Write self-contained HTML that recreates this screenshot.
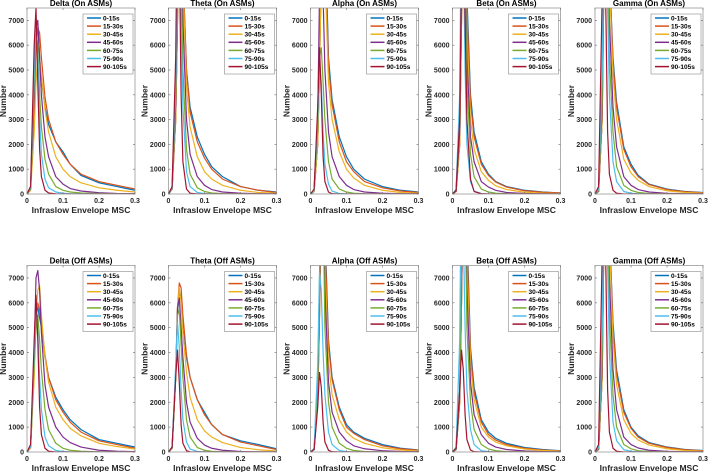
<!DOCTYPE html>
<html><head><meta charset="utf-8">
<style>
html,body{margin:0;padding:0;background:#fff;}
svg{display:block;font-family:"Liberation Sans",Arial,sans-serif;}
</style></head>
<body>
<svg id="fig" width="708" height="472" viewBox="0 0 708 472" xmlns="http://www.w3.org/2000/svg"></svg>
<script>
const xSamples=[0,0.01,0.02,0.025,0.03,0.035,0.04,0.05,0.06,0.08,0.1,0.12,0.15,0.2,0.25,0.3];
const seriesNames=["0-15s","15-30s","30-45s","45-60s","60-75s","75-90s","90-105s"];
const seriesColors=["#0072BD","#D95319","#EDB120","#7E2F8E","#77AC30","#4DBEEE","#A2142F"];
const panelTitles=["Delta (On ASMs)","Theta (On ASMs)","Alpha (On ASMs)","Beta (On ASMs)","Gamma (On ASMs)","Delta (Off ASMs)","Theta (Off ASMs)","Alpha (Off ASMs)","Beta (Off ASMs)","Gamma (Off ASMs)"];
const yTicks=[0,1000,2000,3000,4000,5000,6000,7000];
const xTicks=[0,0.1,0.2,0.3];
const xTickLabels=["0","0.1","0.2","0.3"];
const deltaOn=[
[0,300,4500,7000,6800,5500,4600,3500,2800,2100,1700,1200,750,450,300,150],
[0,200,3500,6000,6700,6500,5500,3900,3000,2100,1600,1200,800,500,350,200],
[0,150,2500,4500,5500,5500,4800,3400,2500,1500,1000,700,450,250,150,80],
[0,200,4000,6800,7000,5500,4000,2300,1500,700,400,220,120,50,20,10],
[0,200,4500,6500,6000,4000,2700,1400,800,300,150,80,40,15,5,0],
[0,250,5000,7000,5500,3000,1600,600,250,80,30,10,5,0,0,0],
[0,300,6000,7500,4500,1800,700,150,40,5,0,0,0,0,0,0]];
const thetaOn=[
[0,200,3000,7000,12000,12000,9000,5000,3500,2300,1600,1100,700,300,150,80],
[0,200,3000,7000,12000,12000,9000,5000,3300,2100,1450,1000,600,300,150,60],
[0,200,3000,7000,12000,12000,8500,4300,2700,1500,900,600,350,150,60,30],
[0,200,3500,8000,12000,11000,7000,3000,1600,700,350,180,80,30,10,5],
[0,200,4000,9000,12000,9000,5000,1800,800,250,100,40,15,5,0,0],
[0,250,4500,9500,12000,7000,3500,900,300,60,15,5,0,0,0,0],
[0,300,5500,12000,10000,4000,1300,200,30,0,0,0,0,0,0,0]];
const alphaOn=[
[0,100,2000,5000,9000,12000,11000,5500,3800,2300,1500,1000,600,300,150,80],
[0,100,2000,5000,9000,12000,10500,5200,3600,2100,1300,900,500,250,120,60],
[0,100,2000,5000,9000,11000,9000,4500,3000,1700,1000,650,350,150,60,30],
[0,150,3000,8000,12000,8000,5000,2500,1500,700,350,180,80,30,10,5],
[0,150,2500,5500,5900,4500,3000,1300,600,200,80,30,10,0,0,0],
[0,150,3000,5200,4500,2500,1200,400,120,20,5,0,0,0,0,0],
[0,200,3500,5900,4000,1500,500,80,10,0,0,0,0,0,0,0]];
const betaOn=[
[0,100,2000,7000,12000,11000,8000,4000,2500,1300,800,500,300,150,80,40],
[0,100,2000,7000,12000,11000,7500,3700,2300,1200,750,480,280,130,70,40],
[0,100,2000,7000,12000,10500,6500,3000,1800,900,550,330,180,70,30,15],
[0,120,2500,7500,12000,10000,5500,2300,1300,500,280,150,60,20,5,0],
[0,150,3000,8000,12000,9000,4500,1600,700,200,80,30,10,0,0,0],
[0,200,4000,12000,10000,5000,2000,500,120,20,0,0,0,0,0,0],
[0,150,3000,9000,12000,7000,3000,600,100,10,0,0,0,0,0,0]];
const gammaOn=[
[0,100,3000,9000,12000,12000,9000,5500,3700,1900,1200,750,400,200,100,60],
[0,100,3000,9000,12000,12000,9000,5300,3500,1800,1100,700,380,180,90,50],
[0,100,3000,9000,12000,12000,8500,4800,3000,1400,850,550,300,130,60,30],
[0,120,3500,9500,12000,11000,7000,3500,1900,700,350,180,80,25,10,5],
[0,150,4000,10000,12000,10000,5500,2500,1100,350,150,60,20,5,0,0],
[0,200,5000,12000,10000,7500,4000,1300,500,100,30,10,0,0,0,0],
[0,300,8000,12000,7500,2500,800,150,30,0,0,0,0,0,0,0]];
const deltaOff=[
[0,200,3500,5600,5800,5400,5000,3800,3000,2200,1700,1300,900,500,350,200],
[0,200,3500,5500,6000,5700,5200,3900,3000,2100,1600,1200,800,450,300,150],
[0,150,3000,5500,6500,6700,5500,3800,2800,1800,1300,950,650,350,220,120],
[0,200,4000,7000,7300,6500,4800,2700,1800,1000,600,380,200,70,30,15],
[0,200,3500,5000,5500,4500,3300,1700,900,350,150,70,30,5,0,0],
[0,200,4000,5800,4800,3000,1700,600,250,60,20,5,0,0,0,0],
[0,300,4500,6300,4500,1800,700,150,30,0,0,0,0,0,0,0]];
const thetaOff=[
[0,150,3000,5500,6500,6200,5300,3800,3000,2100,1600,1100,700,450,300,130],
[0,150,3000,5800,6800,6600,5500,3900,3000,2100,1500,1100,700,400,250,100],
[0,150,3000,5700,6600,6000,4800,3200,2200,1300,850,600,380,180,90,40],
[0,150,3200,5800,6200,5000,3800,2000,1200,550,280,150,70,20,5,0],
[0,150,3000,5500,5700,4300,3000,1300,600,180,70,25,10,0,0,0],
[0,200,3500,5200,4200,2500,1300,400,120,20,5,0,0,0,0,0],
[0,200,3000,4100,2800,1100,350,50,5,0,0,0,0,0,0,0]];
const alphaOff=[
[0,100,2000,5500,10000,12000,9000,4500,3000,1800,1100,800,550,300,150,80],
[0,100,2000,5500,10000,12000,8500,4300,2900,1700,1000,750,500,250,130,70],
[0,100,2000,5500,10000,11500,7500,3600,2300,1300,800,550,350,170,80,40],
[0,100,2200,6000,11000,10500,6500,2800,1600,800,450,250,130,50,20,10],
[0,100,2500,7000,12000,10000,5000,2000,1000,350,150,60,20,5,0,0],
[0,150,3500,7200,6500,4000,2300,800,300,60,15,0,0,0,0,0],
[0,100,1800,3200,2600,1200,400,70,10,0,0,0,0,0,0,0]];
const betaOff=[
[0,100,2000,6000,11000,12000,9000,4200,2600,1300,800,550,350,180,100,50],
[0,100,2000,6000,11000,12000,8500,4000,2400,1200,700,480,300,150,80,40],
[0,100,2000,6000,11000,11500,7500,3500,2100,1000,600,400,250,120,60,30],
[0,100,2200,6500,11500,11000,6500,2800,1500,700,350,200,100,40,15,5],
[0,120,2500,7500,12000,10000,5000,2000,900,300,120,50,15,5,0,0],
[0,200,4500,12000,9000,5000,2500,900,300,50,15,0,0,0,0,0],
[0,150,2500,4100,3300,1500,500,80,10,0,0,0,0,0,0,0]];
const gammaOff=[
[0,100,3000,9000,12000,12000,9000,5200,3300,1700,1000,650,380,200,100,60],
[0,100,3000,9000,12000,12000,9000,5000,3100,1600,950,600,350,180,90,50],
[0,100,3000,9000,12000,12000,8500,4500,2700,1300,750,480,280,130,60,30],
[0,120,3500,9500,12000,11000,7000,3300,1700,600,300,160,70,25,10,5],
[0,150,4000,10000,12000,10000,5500,2300,1000,300,130,50,20,5,0,0],
[0,200,5000,12000,10000,7500,4000,1200,450,90,25,10,0,0,0,0],
[0,300,8000,12000,7500,2500,800,150,30,0,0,0,0,0,0,0]];
const panelData=[deltaOn,thetaOn,alphaOn,betaOn,gammaOn,deltaOff,thetaOff,alphaOff,betaOff,gammaOff];

const NS="http://www.w3.org/2000/svg";
const svg=document.getElementById('fig');
const colLeft=[27,168.5,310.5,452.5,595];
const axW=108;
const rowTop=[8,265.5],rowBot=[194,452];
function mk(tag,attrs,parent){const e=document.createElementNS(NS,tag);for(const k in attrs)e.setAttribute(k,attrs[k]);(parent||svg).appendChild(e);return e;}
function slug(s){return s.toLowerCase().replace(/[^a-z0-9]+/g,'-').replace(/^-|-$/g,'');}

panelData.forEach((data,p)=>{
  const r=Math.floor(p/5),c=p%5;
  const L=colLeft[c],R=L+axW,T=rowTop[r],B=rowBot[r];
  const xs=v=>L+(v/0.3)*(R-L);
  const ys=v=>B-(v/7500)*(B-T);
  const g=mk('g',{});
  
  
  const clipId='clip'+p;
  const cp=mk('clipPath',{id:clipId},g);
  mk('rect',{x:L,y:T,width:R-L,height:B-T},cp);
  const sg=mk('g',{'clip-path':'url(#'+clipId+')'},g);
  for(let s=0;s<data.length;s++){
    const pts=data[s].map((v,i)=>xs(xSamples[i]).toFixed(2)+','+ys(v).toFixed(2)).join(' ');
    const pl=mk('polyline',{points:pts,fill:'none',stroke:seriesColors[s],'stroke-width':1.2,'stroke-linejoin':'round'},sg);
    
    
  }
  const fr=mk('rect',{x:L,y:T,width:R-L,height:B-T,fill:'none',stroke:'#9a9a9a','stroke-width':0.8},g);
  
  
  yTicks.forEach(t=>{
    const y=ys(t);
    mk('line',{x1:L,x2:L+2,y1:y,y2:y,stroke:'#777','stroke-width':0.7},g);
    mk('line',{x1:R,x2:R-2,y1:y,y2:y,stroke:'#777','stroke-width':0.7},g);
    const tx=mk('text',{x:L-3,y:y+2.5,'text-anchor':'end','font-size':7,'font-weight':'bold',fill:'#262626'},g);
    tx.textContent=t;
    
    
  });
  xTicks.forEach((t,i)=>{
    const x=xs(t);
    mk('line',{x1:x,x2:x,y1:B,y2:B-2,stroke:'#777','stroke-width':0.7},g);
    mk('line',{x1:x,x2:x,y1:T,y2:T+2,stroke:'#777','stroke-width':0.7},g);
    const tx=mk('text',{x:x,y:B+9,'text-anchor':'middle','font-size':7,'font-weight':'bold',fill:'#262626'},g);
    tx.textContent=xTickLabels[i];
    
    
  });
  const ti=mk('text',{x:(L+R)/2,y:T-2,'text-anchor':'middle','font-size':8,'font-weight':'bold',fill:'#000'},g);
  ti.textContent=panelTitles[p];
  
  
  const xl=mk('text',{x:(L+R)/2,y:B+19,'text-anchor':'middle','font-size':8.5,'font-weight':'bold',fill:'#262626'},g);
  xl.textContent='Infraslow Envelope MSC';
  
  
  const yx=L-21,yy=(T+B)/2;
  const yl=mk('text',{x:yx,y:yy,'text-anchor':'middle','font-size':8.5,'font-weight':'bold',fill:'#262626',transform:'rotate(-90 '+yx+' '+yy+')'},g);
  yl.textContent='Number';
  
  
  const lg=mk('g',{},g);
  
  
  const lx=R-52,ly=T+6;
  mk('rect',{x:lx,y:ly,width:50,height:60,fill:'#fff',stroke:'#9a9a9a','stroke-width':0.7},lg);
  seriesNames.forEach((n,s)=>{
    const y=ly+4+s*8.1;
    const e=mk('g',{},lg);
    
    
    mk('line',{x1:lx+4,x2:lx+18,y1:y,y2:y,stroke:seriesColors[s],'stroke-width':1.5},e);
    const t=mk('text',{x:lx+20,y:y+2.4,'font-size':6.5,'font-weight':'bold',fill:'#000'},e);
    t.textContent=n;
  });
});
</script>
</body></html>
